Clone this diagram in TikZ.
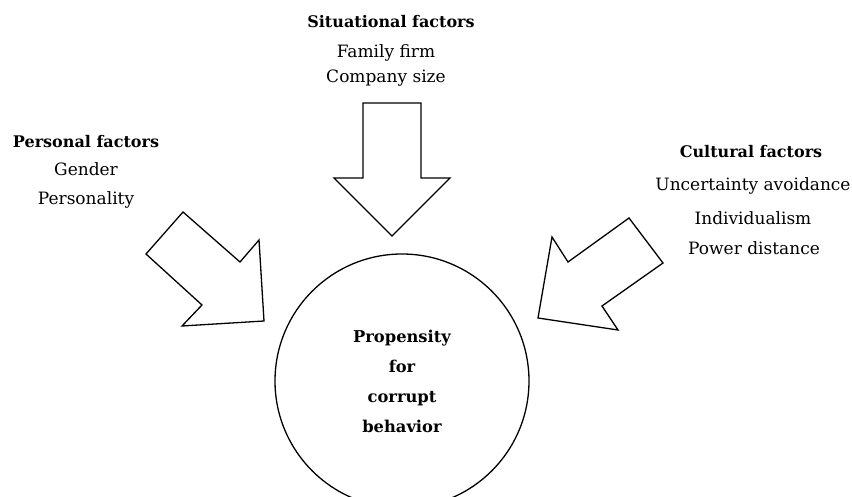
\documentclass[tikz,border=0pt]{standalone}
\usepackage{fontspec}
\setmainfont{DejaVu Serif}
\begin{document}
\begin{tikzpicture}[x=1pt,y=-1pt,
  blockarrow/.style={draw=black, line width=1.3pt, line join=miter, fill=white},
  txt/.style={font=\fontsize{17}{20}\selectfont, anchor=base, inner sep=0pt},
  ttl/.style={font=\fontsize{16}{20}\selectfont\bfseries, anchor=base, inner sep=0pt},
  corebox/.style={circle, draw=black, line width=1.3pt, minimum size=254pt, inner sep=0pt,
    align=center, font=\fontsize{16.3}{30}\selectfont\bfseries}]
\useasboundingbox (0,0) rectangle (852,497);

% central circle
\node[corebox] (core) at (402,381) {Propensity\\for\\corrupt\\behavior};

% situational factors
\node[ttl] (sitT) at (391,28) {Situational factors};
\node[txt] (sit1) at (386,57.5) {Family firm};
\node[txt] (sit2) at (386,83) {Company size};

% personal factors
\node[ttl] (perT) at (86,147.5) {Personal factors};
\node[txt] (per1) at (86,175.5) {Gender};
\node[txt] (per2) at (86,205) {Personality};

% cultural factors
\node[ttl] (culT) at (751,157.5) {Cultural factors};
\node[txt] (cul1) at (753,191) {Uncertainty avoidance};
\node[txt] (cul2) at (753,224.5) {Individualism};
\node[txt] (cul3) at (754,255) {Power distance};

% block arrows
\draw[blockarrow] (363,103) -- (421,103) -- (421,178) -- (450,178) -- (392,236)
  -- (334,178) -- (363,178) -- cycle;
\draw[blockarrow] (183,212) -- (240,262) -- (259,240) -- (264,321) -- (182,326)
  -- (202,305) -- (146,254) -- cycle;
\draw[blockarrow] (629,218) -- (663,263) -- (602,306) -- (618,330) -- (538,318)
  -- (552,237) -- (568,262) -- cycle;
\end{tikzpicture}
\end{document}
